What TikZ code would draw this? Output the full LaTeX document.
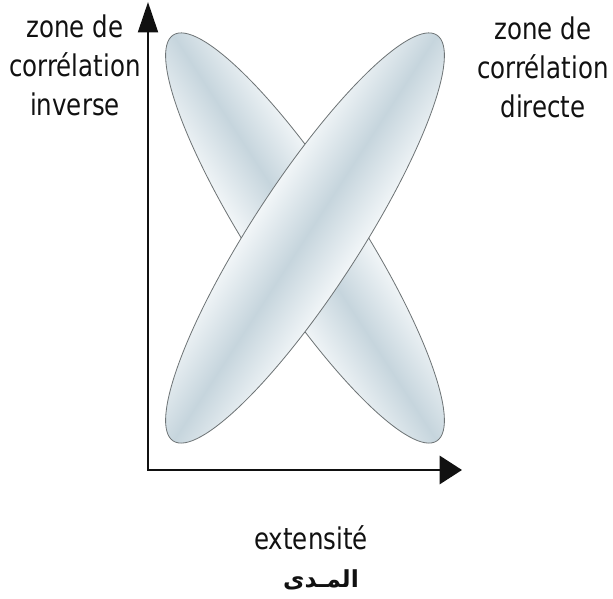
\documentclass[tikz,border=0pt]{standalone}
\usepackage{fontspec}
\setmainfont{DejaVu Sans}
\newfontfamily\arabicfont[Script=Arabic]{DejaVu Sans}
\TeXXeTstate=1
\usepackage{tikz}
\usetikzlibrary{arrows.meta}
\definecolor{inkBlack}{RGB}{17, 17, 17}
\definecolor{blobEdge}{RGB}{110, 116, 118}
\definecolor{blobLight}{RGB}{242, 246, 248}
\definecolor{blobMid}{RGB}{198, 213, 221}
\tikzset{
  zoneLabel/.style={align=center, inner sep=0pt, text=inkBlack, xscale=0.82,
    font=\fontsize{25.5pt}{33pt}\selectfont},
  blob/.style={draw=blobEdge, line width=0.7pt, top color=blobLight,
    bottom color=blobLight, middle color=blobMid},
  axisLine/.style={draw=inkBlack, line width=2pt}
}

\begin{document}
\begin{tikzpicture}[x=0.03cm, y=0.03cm]
  \useasboundingbox (0,0) rectangle (613,599);
  % zone inverse, puis zone directe par-dessus
  \begin{scope}[transform canvas={shift={(305,361)}, rotate=-57}]
    \path[blob] (0,0) ellipse [x radius=242, y radius=54];
  \end{scope}
  \begin{scope}[transform canvas={shift={(305,361)}, rotate=57}]
    \path[blob] (0,0) ellipse [x radius=242, y radius=54];
  \end{scope}
  % axes
  \coordinate (yTip) at (148,597);
  \coordinate (origin) at (148,129);
  \coordinate (xTip) at (462,129);
  \draw[axisLine, {Triangle[length=26pt, width=17pt]}-{Triangle[length=19pt, width=24pt]}]
    (yTip) |- (xTip);
  % textes
  \node[zoneLabel, anchor=north] (inverseLbl) at (75,584) {zone de\\corrélation\\inverse};
  \node[zoneLabel, anchor=north] (directLbl) at (543,582) {zone de\\corrélation\\directe};
  \node[zoneLabel, anchor=base] (extLbl) at (311,49) {extensité};
  \node[inner sep=0pt, text=inkBlack] (madaLbl) at (321,19)
    {\fontsize{20pt}{24pt}\selectfont\arabicfont\bfseries\beginR المـدى\endR};
\end{tikzpicture}
\end{document}
